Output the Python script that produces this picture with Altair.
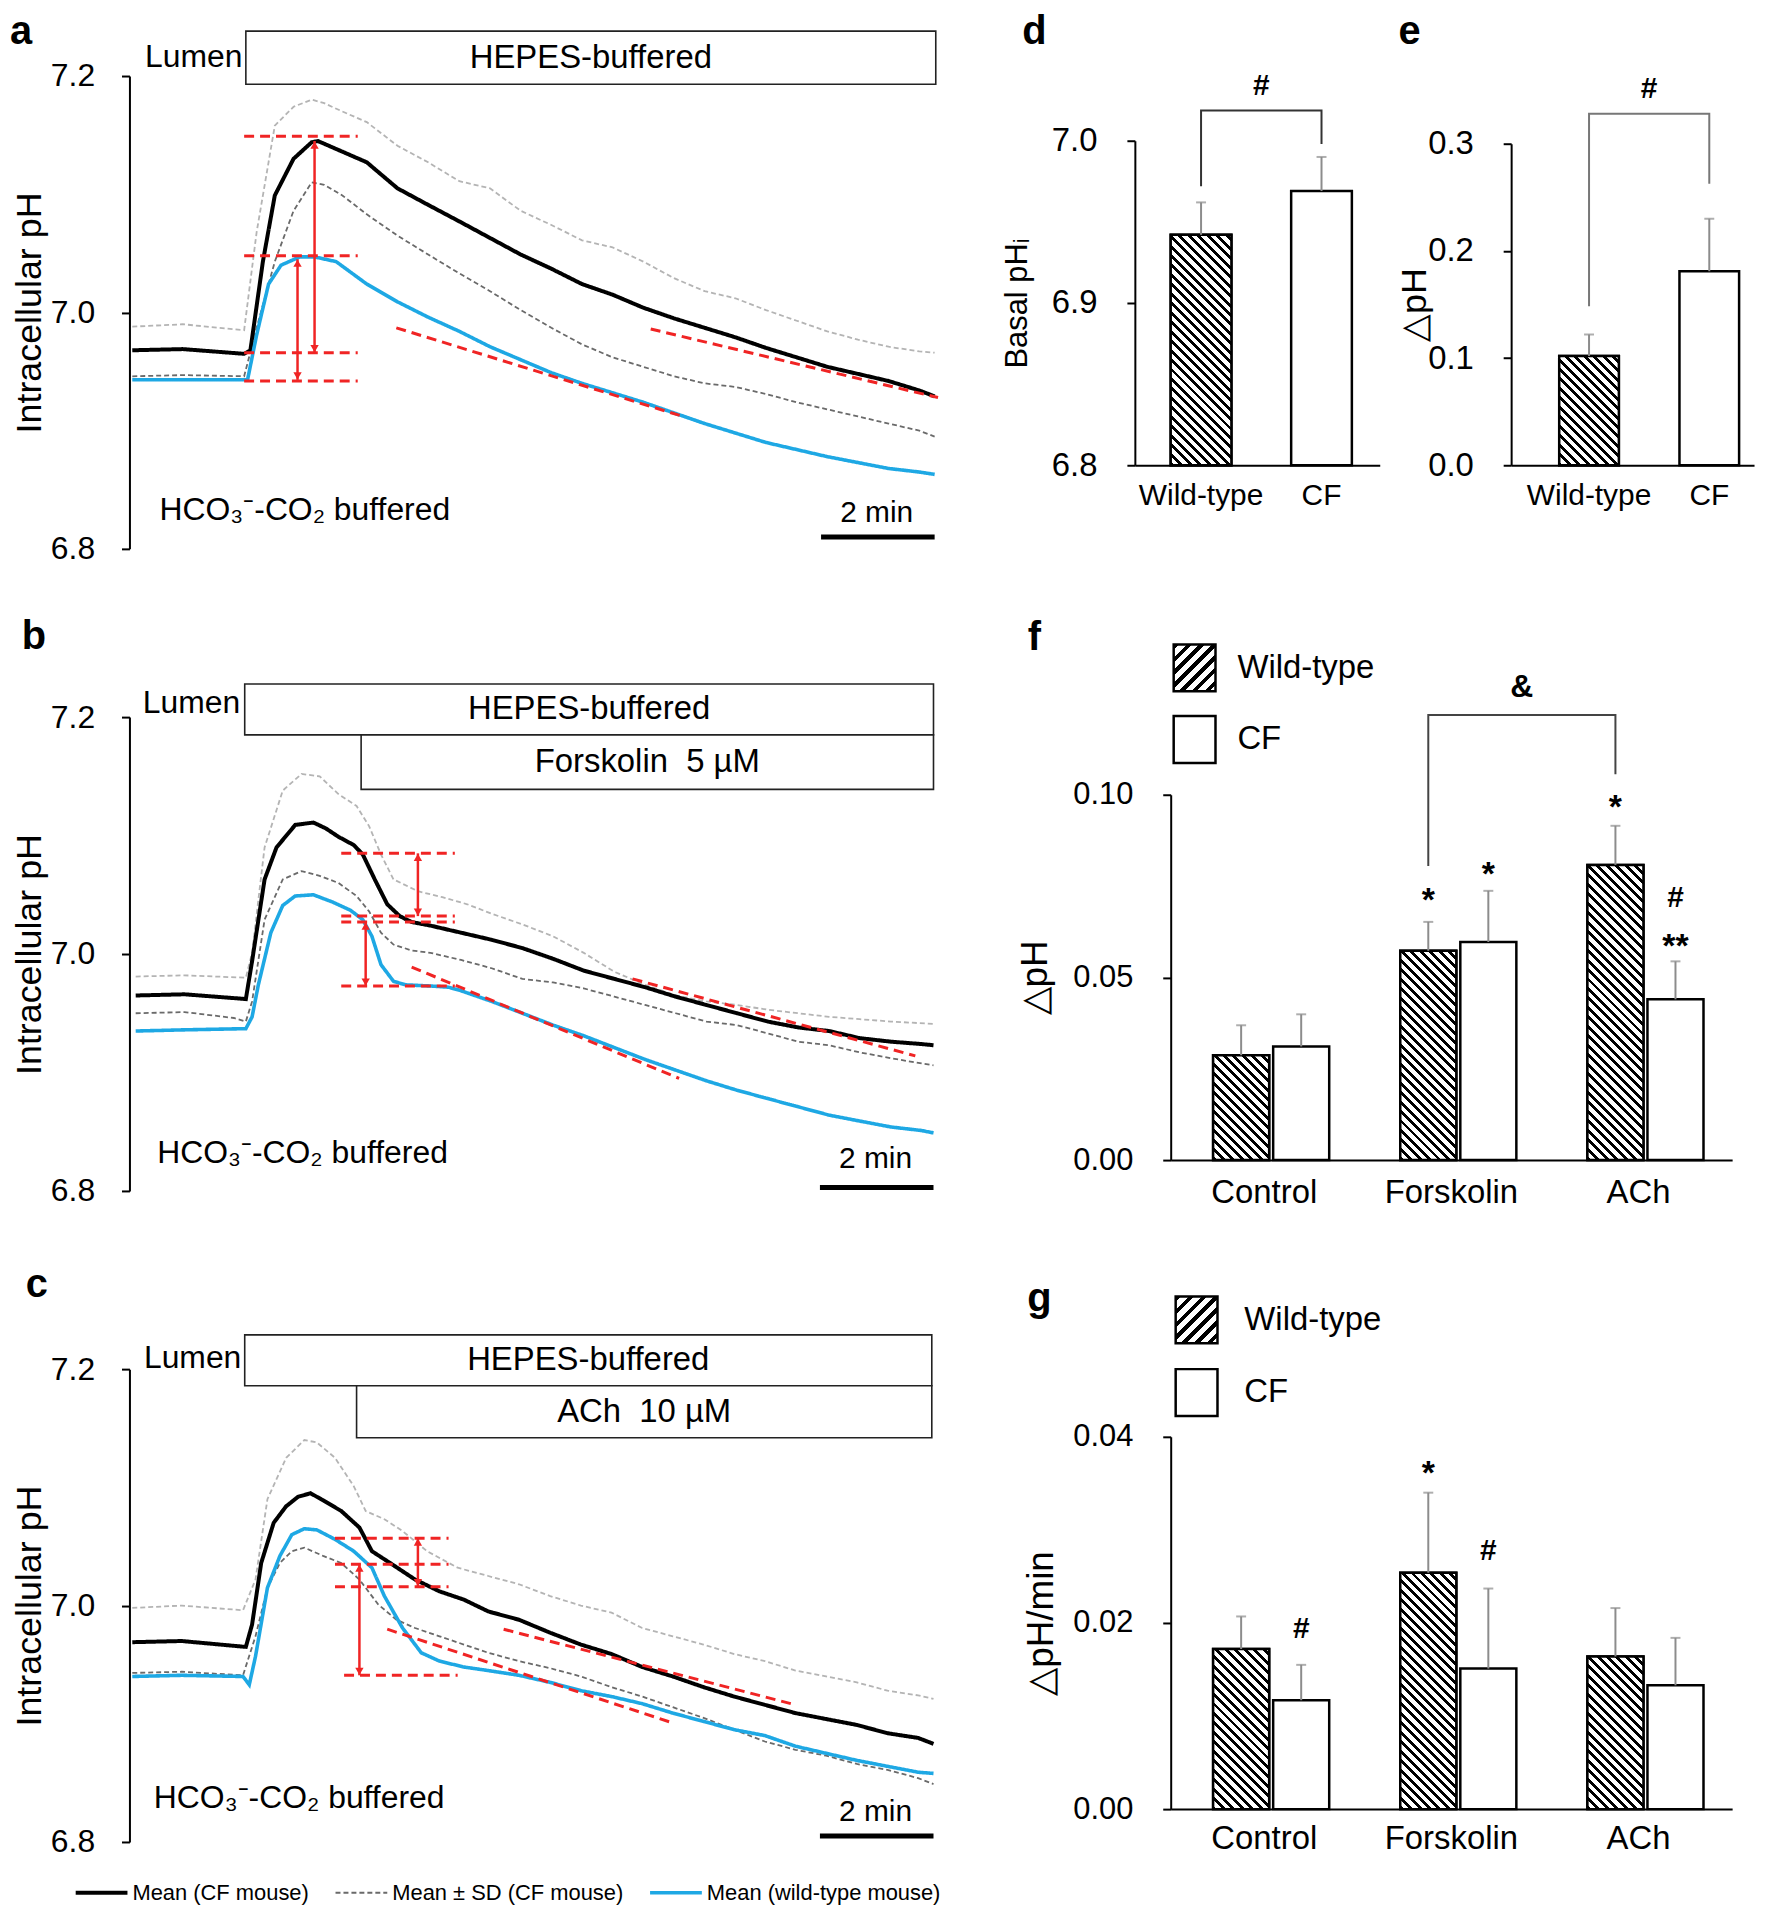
import altair as alt
import pandas as pd

FONT = "Liberation Sans"
BLUE = "#1ea8e4"
RED = "#f02424"
ERR_GRAY = "#8c8c8c"
SD_GRAY = "#6a6a6a"
SERIES = ["Mean (CF mouse)", "Mean \u00b1 SD (CF mouse)", "Mean (wild-type mouse)"]
GENO = ["Wild-type", "CF"]
CONDS = ["Control", "Forskolin", "ACh"]

# ---------------- panel a (time in min, pH) ----------------
A_CF_T = [0.05, 0.94, 2.02, 2.13, 2.35, 2.56, 2.89, 3.21, 3.32, 3.75, 4.18, 4.72, 5.26, 5.81, 6.35, 6.89, 7.43, 7.97, 8.51, 9.05, 9.59, 10.13, 10.67, 11.21, 11.75, 12.29, 12.83, 13.37, 13.91, 14.18]
A_CF = [6.968, 6.969, 6.965, 6.968, 7.043, 7.099, 7.130, 7.144, 7.145, 7.136, 7.127, 7.105, 7.091, 7.077, 7.063, 7.049, 7.037, 7.024, 7.015, 7.004, 6.995, 6.987, 6.979, 6.970, 6.962, 6.954, 6.948, 6.942, 6.934, 6.929]
A_WT_T = [0.05, 0.94, 2.08, 2.24, 2.45, 2.67, 3.00, 3.26, 3.64, 4.18, 4.72, 5.26, 5.81, 6.35, 6.89, 7.43, 7.97, 8.51, 9.05, 9.59, 10.13, 10.67, 11.21, 11.75, 12.29, 12.83, 13.37, 13.91, 14.18]
A_WT = [6.943, 6.943, 6.943, 6.981, 7.024, 7.040, 7.047, 7.047, 7.043, 7.024, 7.009, 6.996, 6.984, 6.971, 6.960, 6.949, 6.940, 6.932, 6.924, 6.915, 6.906, 6.898, 6.890, 6.884, 6.878, 6.873, 6.868, 6.865, 6.863]
A_SD_T = [0.05, 0.94, 2.02, 2.24, 2.56, 2.89, 3.21, 3.43, 3.75, 4.18, 4.72, 5.26, 5.81, 6.35, 6.89, 7.43, 7.97, 8.51, 9.05, 9.59, 10.13, 10.67, 11.21, 11.75, 12.29, 12.83, 13.37, 13.91, 14.18]
A_SDU = [6.988, 6.990, 6.985, 7.068, 7.158, 7.174, 7.180, 7.177, 7.170, 7.161, 7.141, 7.127, 7.111, 7.105, 7.086, 7.074, 7.061, 7.055, 7.043, 7.029, 7.018, 7.012, 7.002, 6.993, 6.984, 6.977, 6.971, 6.967, 6.966]
A_SDL = [6.946, 6.947, 6.946, 6.987, 7.043, 7.086, 7.110, 7.108, 7.099, 7.083, 7.065, 7.049, 7.033, 7.018, 7.002, 6.987, 6.973, 6.962, 6.954, 6.946, 6.940, 6.937, 6.931, 6.924, 6.918, 6.912, 6.906, 6.900, 6.895]
A_H_T1 = [2.02, 2.02, 2.02, 2.02]
A_H_T2 = [4.02, 4.02, 4.02, 4.02]
A_H_PH = [7.149, 7.048, 6.966, 6.942]
A_AR_T = [3.26, 2.96]
A_AR_TOP = [7.145, 7.045]
A_AR_BOT = [6.966, 6.943]
A_SL_T1 = [4.70, 9.18]
A_SL_PH1 = [6.987, 6.986]
A_SL_T2 = [9.75, 14.24]
A_SL_PH2 = [6.912, 6.928]
A_BOX_LABEL = ["HEPES-buffered"]
A_BOX_T1 = [2.05]
A_BOX_T2 = [14.20]
A_BOX_PH1 = [7.193]
A_BOX_PH2 = [7.238]

# ---------------- panel b ----------------
B_CF_T = [0.11, 0.97, 2.05, 2.16, 2.38, 2.59, 2.92, 3.24, 3.46, 3.68, 3.95, 4.11, 4.32, 4.54, 4.76, 4.97, 5.30, 5.84, 6.38, 6.92, 7.46, 8.00, 8.54, 9.08, 9.62, 10.16, 10.70, 11.24, 11.78, 12.32, 12.86, 13.41, 13.95, 14.16]
B_CF = [6.965, 6.966, 6.962, 6.994, 7.063, 7.090, 7.109, 7.111, 7.106, 7.099, 7.092, 7.084, 7.063, 7.042, 7.032, 7.027, 7.024, 7.018, 7.012, 7.005, 6.996, 6.986, 6.979, 6.972, 6.964, 6.957, 6.950, 6.943, 6.938, 6.935, 6.929, 6.926, 6.924, 6.923]
B_WT_T = [0.11, 0.97, 2.05, 2.16, 2.27, 2.49, 2.70, 2.92, 3.24, 3.57, 3.89, 4.11, 4.27, 4.43, 4.65, 4.86, 5.30, 5.62, 5.84, 6.38, 6.92, 7.46, 8.00, 8.54, 9.08, 9.62, 10.16, 10.70, 11.24, 11.78, 12.32, 12.86, 13.41, 13.95, 14.16]
B_WT = [6.935, 6.936, 6.937, 6.947, 6.974, 7.018, 7.041, 7.049, 7.050, 7.044, 7.037, 7.029, 7.015, 6.991, 6.977, 6.974, 6.973, 6.972, 6.969, 6.960, 6.950, 6.940, 6.931, 6.921, 6.911, 6.902, 6.893, 6.885, 6.878, 6.871, 6.864, 6.859, 6.854, 6.851, 6.849]
B_SDU_T = [0.11, 0.97, 2.05, 2.16, 2.38, 2.70, 3.03, 3.35, 3.68, 4.00, 4.22, 4.43, 4.65, 5.08, 5.51, 5.95, 6.38, 6.92, 7.46, 8.00, 8.54, 9.08, 9.62, 10.16, 10.70, 11.24, 11.78, 12.32, 12.86, 13.41, 14.16]
B_SDU = [6.981, 6.982, 6.980, 7.001, 7.090, 7.138, 7.152, 7.150, 7.135, 7.125, 7.108, 7.084, 7.063, 7.053, 7.048, 7.042, 7.034, 7.025, 7.015, 7.001, 6.985, 6.974, 6.965, 6.960, 6.957, 6.953, 6.950, 6.947, 6.945, 6.943, 6.941]
B_SDL_T = [0.11, 0.97, 1.84, 2.05, 2.16, 2.38, 2.70, 3.03, 3.35, 3.68, 4.00, 4.22, 4.43, 4.65, 4.97, 5.30, 5.84, 6.38, 6.92, 7.46, 8.00, 8.54, 9.08, 9.62, 10.16, 10.70, 11.24, 11.78, 12.32, 12.86, 13.41, 14.16]
B_SDL = [6.950, 6.951, 6.946, 6.943, 6.960, 7.029, 7.063, 7.070, 7.066, 7.060, 7.049, 7.036, 7.018, 7.008, 7.003, 7.001, 6.995, 6.988, 6.979, 6.976, 6.971, 6.964, 6.957, 6.950, 6.943, 6.940, 6.933, 6.926, 6.923, 6.917, 6.912, 6.906]
B_H_T1 = [3.73, 3.73, 3.73, 3.73]
B_H_T2 = [5.73, 5.73, 5.73, 5.73]
B_H_PH = [7.085, 7.032, 7.027, 6.973]
B_AR_T = [5.08, 4.16]
B_AR_TOP = [7.085, 7.027]
B_AR_BOT = [7.032, 6.973]
B_SL_T1 = [4.97, 8.86]
B_SL_PH1 = [6.989, 6.979]
B_SL_T2 = [9.68, 13.84]
B_SL_PH2 = [6.895, 6.914]
B_BOX_LABEL = ["HEPES-buffered", "Forskolin\u00a0 5 \u00b5M"]
B_BOX_T1 = [2.03, 4.08]
B_BOX_T2 = [14.16, 14.16]
B_BOX_PH1 = [7.185, 7.139]
B_BOX_PH2 = [7.228, 7.185]

# ---------------- panel c ----------------
C_CF_T = [0.05, 0.92, 2.05, 2.16, 2.32, 2.54, 2.76, 2.97, 3.19, 3.41, 3.73, 4.05, 4.27, 4.59, 5.03, 5.46, 5.89, 6.32, 6.86, 7.41, 7.95, 8.49, 9.03, 9.57, 10.11, 10.65, 11.19, 11.73, 12.27, 12.81, 13.35, 13.89, 14.16]
C_CF = [6.969, 6.970, 6.965, 6.984, 7.036, 7.070, 7.084, 7.092, 7.095, 7.089, 7.080, 7.066, 7.046, 7.036, 7.022, 7.012, 7.005, 6.995, 6.988, 6.977, 6.967, 6.959, 6.948, 6.940, 6.931, 6.923, 6.916, 6.909, 6.904, 6.899, 6.892, 6.888, 6.883]
C_WT_T = [0.05, 0.92, 2.00, 2.11, 2.22, 2.43, 2.65, 2.86, 3.08, 3.30, 3.62, 3.95, 4.27, 4.49, 4.81, 5.14, 5.46, 5.89, 6.32, 6.86, 7.41, 7.95, 8.49, 9.03, 9.57, 10.11, 10.65, 11.19, 11.73, 12.27, 12.81, 13.35, 13.89, 14.16]
C_WT = [6.940, 6.941, 6.940, 6.933, 6.957, 7.015, 7.042, 7.060, 7.065, 7.064, 7.056, 7.046, 7.032, 7.008, 6.981, 6.960, 6.953, 6.948, 6.945, 6.941, 6.935, 6.928, 6.923, 6.917, 6.909, 6.902, 6.895, 6.890, 6.881, 6.875, 6.869, 6.864, 6.859, 6.858]
C_SDU_T = [0.05, 0.92, 2.00, 2.22, 2.43, 2.76, 3.08, 3.30, 3.62, 3.95, 4.16, 4.49, 4.81, 5.24, 5.78, 6.32, 6.86, 7.41, 7.95, 8.49, 9.03, 9.57, 10.11, 10.65, 11.19, 11.73, 12.27, 12.81, 13.35, 13.89, 14.16]
C_SDU = [6.998, 7.000, 6.996, 7.022, 7.090, 7.125, 7.140, 7.138, 7.125, 7.101, 7.080, 7.073, 7.063, 7.046, 7.032, 7.025, 7.018, 7.008, 7.000, 6.994, 6.981, 6.974, 6.967, 6.959, 6.953, 6.945, 6.940, 6.935, 6.928, 6.924, 6.921]
C_SDL_T = [0.05, 0.92, 2.00, 2.22, 2.43, 2.65, 2.86, 3.08, 3.41, 3.73, 4.05, 4.38, 4.70, 5.03, 5.46, 5.89, 6.32, 6.86, 7.41, 7.95, 8.49, 9.03, 9.57, 10.11, 10.65, 11.19, 11.73, 12.27, 12.81, 13.35, 13.89, 14.16]
C_SDL = [6.943, 6.944, 6.941, 6.974, 7.015, 7.036, 7.046, 7.049, 7.042, 7.036, 7.022, 7.001, 6.988, 6.981, 6.974, 6.967, 6.960, 6.953, 6.947, 6.940, 6.931, 6.923, 6.914, 6.905, 6.895, 6.885, 6.878, 6.873, 6.866, 6.861, 6.854, 6.849]
C_H_T1 = [3.62, 3.62, 3.62, 3.78]
C_H_T2 = [5.62, 5.62, 5.62, 5.78]
C_H_PH = [7.057, 7.035, 7.016, 6.941]
C_AR_T = [5.08, 4.05]
C_AR_TOP = [7.057, 7.035]
C_AR_BOT = [7.016, 6.941]
C_SL_T1 = [4.54, 6.59]
C_SL_PH1 = [6.980, 6.980]
C_SL_T2 = [9.55, 11.73]
C_SL_PH2 = [6.901, 6.916]
C_BOX_LABEL = ["HEPES-buffered", "ACh\u00a0 10 \u00b5M"]
C_BOX_T1 = [2.03, 4.00]
C_BOX_T2 = [14.13, 14.13]
C_BOX_PH1 = [7.186, 7.142]
C_BOX_PH2 = [7.229, 7.186]

# text anchors of the trace panels: Lumen (t, pH), HCO3 label, "2 min", scale bar
A_TXT = {"lumen": (1.99, 7.216), "hco3": (0.53, 6.833), "min": (13.16, 6.830), "bar": (12.18, 14.18, 6.810)}
B_TXT = {"lumen": (1.95, 7.212), "hco3": (0.49, 6.832), "min": (13.14, 6.827), "bar": (12.16, 14.16, 6.803)}
C_TXT = {"lumen": (1.97, 7.209), "hco3": (0.43, 6.837), "min": (13.14, 6.825), "bar": (12.16, 14.16, 6.805)}

# ---------------- bar panels ----------------
D_MEAN = [6.942, 6.969]
D_SD = [0.020, 0.021]
D_BRACKET = [6.972, 7.0186, 7.0186, 6.998]
D_SIG = 7.034
E_MEAN = [0.102, 0.181]
E_SD = [0.020, 0.049]
E_BRACKET = [0.1484, 0.328, 0.328, 0.2627]
E_SIG = 0.351

F_WT = [0.0287, 0.0573, 0.0808]
F_WT_SD = [0.0082, 0.0079, 0.0107]
F_CF = [0.0311, 0.0597, 0.0440]
F_CF_SD = [0.0088, 0.0140, 0.0104]
F_SIG_C = ["Forskolin", "Forskolin", "ACh", "ACh", "ACh"]
F_SIG_G = ["Wild-type", "CF", "Wild-type", "CF", "CF"]
F_SIG_V = [0.0734, 0.0805, 0.0987, 0.0718, 0.0608]
F_SIG_S = ["*", "*", "*", "#", "**"]
F_BRACKET = [0.0805, 0.1218, 0.1218, 0.1056]
F_AMP = 0.1295

G_WT = [0.0172, 0.0254, 0.0164]
G_WT_SD = [0.0035, 0.0086, 0.0052]
G_CF = [0.0117, 0.0151, 0.0133]
G_CF_SD = [0.0038, 0.0086, 0.0051]
G_SIG_C = ["Forskolin", "Forskolin", "Control"]
G_SIG_G = ["Wild-type", "CF", "CF"]
G_SIG_V = [0.0370, 0.0277, 0.0194]
G_SIG_S = ["*", "#", "#"]

# ---------------- layout (figure pixels) ----------------
MARGIN = 8
CW, CH = 1762, 1902
T_MAX = 14.2
FR_A = dict(x0=130, x1=940, yt=72, yb=547)
FR_B = dict(x0=130, x1=940, yt=716, yb=1192)
FR_C = dict(x0=130, x1=940, yt=1371, yb=1846)
# pair panels: band paddings (inner, outer, align)
FR_D = dict(x0=1140, x1=1386, yt=137, yb=463, band=(0.496, 0.2645, 0.5625))
FR_E = dict(x0=1518, x1=1762, yt=140, yb=463, band=(0.504, 0.262, 0.763))
# grouped panels: group band range; inner offset band (inner, outer, align)
FR_F = dict(x0=1176, x1=1740, yt=794, yb=1161)
FR_G = dict(x0=1176, x1=1740, yt=1439, yb=1813)
GRP_PI, GRP_PO, GRP_ALIGN = 0.0667, 0.5917, 0.597


def px(v):
    return v - MARGIN


def hatch(w, h, forward=False, period=9.5, ink=0.42):
    L = w + h
    c = L / (w * w + h * h)
    if forward:
        x1, y1, x2, y2 = 0, 0, c * w, c * h
    else:
        x1, y1, x2, y2 = 0, 1, c * w, 1 - c * h
    stops = []
    k = 0
    while k * period < L:
        a = k * period / L
        b = min((k * period + ink * period) / L, 1.0)
        e = min((k + 1) * period / L, 1.0)
        stops += [(a, "black"), (b, "black"), (b, "white"), (e, "white")]
        k += 1
    return {"gradient": "linear", "x1": x1, "y1": y1, "x2": x2, "y2": y2,
            "stops": [{"offset": o, "color": col} for o, col in stops]}


def letter_layer(letter, lx, ly):
    return alt.Chart(pd.DataFrame({"s": [letter]})).mark_text(
        fontSize=40, fontWeight="bold", color="black", align="center", baseline="middle"
    ).encode(text="s:N", x=alt.value(px(lx)), y=alt.value(px(ly)))


TRACE_LEGEND = alt.Legend(orient="none", legendX=px(74), legendY=px(1897) - 12, direction="horizontal",
                          columns=3, title=None, symbolType="stroke", symbolSize=2704, clipHeight=24,
                          labelFontSize=22, labelLimit=500, labelColor="black", columnPadding=24,
                          labelOffset=3)


def trace_panel(fr, cf_t, cf, wt_t, wt, sdu_t, sdu, sdl_t, sdl, h1, h2, hp, art, artop, arbot,
                s1, sp1, s2, sp2, blab, bt1, bt2, bp1, bp2, txt, letter, lxy):
    rows = []
    for part, ser, ts, ps in [("sdl", SERIES[1], sdl_t, sdl), ("sdu", SERIES[1], sdu_t, sdu),
                              ("cf", SERIES[0], cf_t, cf), ("wt", SERIES[2], wt_t, wt)]:
        for t, v in zip(ts, ps):
            rows.append({"t": t, "ph": v, "series": ser, "part": part})
    ldf = pd.DataFrame(rows)

    xs = alt.Scale(domain=[0, T_MAX], range=[px(fr["x0"]), px(fr["x1"])], nice=False, zero=False)
    ys = alt.Scale(domain=[6.8, 7.2], range=[px(fr["yb"]), px(fr["yt"])], nice=False, zero=False)
    X = alt.X("t:Q", scale=xs, axis=None)
    Y = alt.Y("ph:Q", scale=ys, axis=alt.Axis(
        orient="left", offset=-px(fr["x0"]),
        values=[6.8, 7.0, 7.2], format=".1f", title="Intracellular pH", grid=False,
        domainColor="black", domainWidth=2, tickColor="black", tickWidth=2, tickSize=8,
        labelFontSize=32, labelColor="black", labelPadding=27,
        titleFontSize=36, titleFontWeight="normal", titleColor="black", titlePadding=2))

    color = alt.Color("series:N", scale=alt.Scale(domain=SERIES, range=["black", SD_GRAY, BLUE]),
                      legend=TRACE_LEGEND)
    dash = alt.StrokeDash("series:N", scale=alt.Scale(domain=SERIES, range=[[1, 0], [5, 3], [1, 0]]),
                          legend=TRACE_LEGEND)
    sw = alt.StrokeWidth("series:N", scale=alt.Scale(type="ordinal", domain=SERIES, range=[4.0, 1.8, 3.6]),
                         legend=TRACE_LEGEND)

    layers = []
    for part, op in [("sdl", 1.0), ("sdu", 0.5), ("cf", 1.0), ("wt", 1.0)]:
        layers.append(alt.Chart(ldf).transform_filter(alt.datum.part == part).mark_line(opacity=op)
                      .encode(x=X, y=Y, color=color, strokeDash=dash, strokeWidth=sw))

    layers.append(alt.Chart(pd.DataFrame({"t": h1, "t2": h2, "ph": hp})).mark_rule(
        color=RED, strokeWidth=3, strokeDash=[10, 6]).encode(x=X, x2="t2:Q", y=Y))
    layers.append(alt.Chart(pd.DataFrame({"t": s1, "ph": sp1, "t2": s2, "ph2": sp2})).mark_rule(
        color=RED, strokeWidth=3, strokeDash=[10, 6]).encode(x=X, x2="t2:Q", y=Y, y2="ph2:Q"))
    layers.append(alt.Chart(pd.DataFrame({"t": art, "ph": artop, "ph2": arbot})).mark_rule(
        color=RED, strokeWidth=2.5).encode(x=X, y=Y, y2="ph2:Q"))
    layers.append(alt.Chart(pd.DataFrame({"t": art, "ph": artop})).mark_point(
        shape="triangle-up", filled=True, size=70, color=RED, opacity=1, yOffset=4).encode(x=X, y=Y))
    layers.append(alt.Chart(pd.DataFrame({"t": art, "ph": arbot})).mark_point(
        shape="triangle-down", filled=True, size=70, color=RED, opacity=1, yOffset=-4).encode(x=X, y=Y))

    bdf = pd.DataFrame({"t": bt1, "t2": bt2, "ph": bp1, "ph2": bp2})
    layers.append(alt.Chart(bdf).mark_rect(fill="white", stroke="#222222", strokeWidth=1.6).encode(
        x=X, x2="t2:Q", y=Y, y2="ph2:Q"))
    tdf = pd.DataFrame({"t": [(a + b) / 2 for a, b in zip(bt1, bt2)],
                        "ph": [(a + b) / 2 for a, b in zip(bp1, bp2)], "s": blab})
    layers.append(alt.Chart(tdf).mark_text(fontSize=33, color="black", baseline="middle").encode(
        x=X, y=Y, text="s:N"))

    lt, lp = txt["lumen"]
    layers.append(alt.Chart(pd.DataFrame({"t": [lt], "ph": [lp], "s": ["Lumen"]})).mark_text(
        fontSize=32, color="black", align="right", baseline="middle").encode(x=X, y=Y, text="s:N"))
    ht, hp2 = txt["hco3"]
    layers.append(alt.Chart(pd.DataFrame({"t": [ht], "ph": [hp2], "s": ["HCO\u2083\u207b-CO\u2082 buffered"]})).mark_text(
        fontSize=32, color="black", align="left", baseline="middle").encode(x=X, y=Y, text="s:N"))
    mt, mp = txt["min"]
    layers.append(alt.Chart(pd.DataFrame({"t": [mt], "ph": [mp], "s": ["2 min"]})).mark_text(
        fontSize=30, color="black", align="center", baseline="middle").encode(x=X, y=Y, text="s:N"))
    b1, b2, bp = txt["bar"]
    layers.append(alt.Chart(pd.DataFrame({"t": [b1], "t2": [b2], "ph": [bp]})).mark_rule(
        color="black", strokeWidth=5).encode(x=X, x2="t2:Q", y=Y))

    layers.append(letter_layer(letter, *lxy))
    return alt.layer(*layers)


def y_axis(fr, vals, fmt, title, title_pad, title_size, label_size):
    return alt.Axis(orient="left", offset=-px(fr["x0"]), values=vals, format=fmt, title=title, grid=False,
                    domainColor="black", domainWidth=2, tickColor="black", tickWidth=2, tickSize=8,
                    labelFontSize=label_size, labelColor="black", labelPadding=30,
                    titleFontSize=title_size, titleFontWeight="normal", titleColor="black",
                    titlePadding=title_pad)


def x_axis(fr, label_size, label_pad):
    return alt.Axis(orient="bottom", offset=px(fr["yb"]) - CH, title=None, labelAngle=0, ticks=False,
                    domainColor="black", domainWidth=2, labelFontSize=label_size, labelColor="black",
                    labelPadding=label_pad)


def pair_panel(fr, means, sds, bracket_v, bracket_col, sig_v, ymin, ymax, yvals, fmt, title, title_size,
               title_pad, letter, lxy):
    pi, po, al = fr["band"]
    xs = alt.Scale(domain=GENO, range=[px(fr["x0"]), px(fr["x1"])], paddingInner=pi,
                   paddingOuter=po, align=al)
    ys = alt.Scale(domain=[ymin, ymax], range=[px(fr["yb"]), px(fr["yt"])], nice=False, zero=False)
    X = alt.X("g:N", scale=xs, sort=GENO, axis=x_axis(fr, 30, 15))
    Y = alt.Y("v:Q", scale=ys, axis=y_axis(fr, yvals, fmt, title, title_pad, title_size, 33))
    df = pd.DataFrame({"g": GENO, "v": means, "e": [m + s for m, s in zip(means, sds)], "b": [ymin, ymin]})
    W = fr["x1"] - fr["x0"]
    step = W / (2 - pi + 2 * po)
    bw = step * (1 - pi)
    hgt = (means[0] - ymin) / (ymax - ymin) * (fr["yb"] - fr["yt"])
    layers = [
        alt.Chart(df).mark_bar(fill="white", stroke="black", strokeWidth=2.5).encode(x=X, y=Y, y2="b:Q"),
        alt.Chart(df).transform_filter(alt.datum.g == GENO[0]).mark_bar(
            fill=hatch(bw, hgt), stroke="black", strokeWidth=2.5).encode(x=X, y=Y, y2="b:Q"),
        alt.Chart(df).mark_rule(color=ERR_GRAY, strokeWidth=2).encode(x=X, y=Y, y2="e:Q"),
        alt.Chart(pd.DataFrame({"g": GENO, "v": list(df["e"])})).mark_tick(
            color=ERR_GRAY, thickness=2, size=10).encode(x=X, y=Y),
        alt.Chart(pd.DataFrame({"g": [GENO[0], GENO[0], GENO[1], GENO[1]], "v": bracket_v, "o": [0, 1, 2, 3]}))
        .mark_line(color=bracket_col, strokeWidth=2).encode(x=X, y=Y, order="o:Q"),
        alt.Chart(pd.DataFrame({"g": [GENO[0]], "v": [sig_v], "s": ["#"]})).mark_text(
            fontSize=30, fontWeight="bold", color="black", dx=step / 2, baseline="middle").encode(
            x=X, y=Y, text="s:N"),
        letter_layer(letter, *lxy),
    ]
    return alt.layer(*layers)


def legend_layers(x0, y_top, y_top2, text_x):
    # hand-drawn key (a hatched swatch has no equivalent among legend symbols)
    sw, sh = 42, 47
    out = [
        alt.Chart(pd.DataFrame({"s": ["Wild-type"]})).mark_rect(
            fill=hatch(sw, sh, forward=True, period=13, ink=0.4), stroke="black", strokeWidth=2.5).encode(
            x=alt.value(px(x0)), x2=alt.value(px(x0 + sw)), y=alt.value(px(y_top)), y2=alt.value(px(y_top + sh))),
        alt.Chart(pd.DataFrame({"s": ["CF"]})).mark_rect(
            fill="white", stroke="black", strokeWidth=2.5).encode(
            x=alt.value(px(x0)), x2=alt.value(px(x0 + sw)), y=alt.value(px(y_top2)), y2=alt.value(px(y_top2 + sh))),
    ]
    for g, yt in zip(GENO, [y_top, y_top2]):
        out.append(alt.Chart(pd.DataFrame({"s": [g]})).mark_text(
            fontSize=33, color="black", align="left", baseline="middle").encode(
            text="s:N", x=alt.value(px(text_x)), y=alt.value(px(yt + sh / 2))))
    return out


def group_panel(fr, wt, wt_sd, cf, cf_sd, ymax, yvals, title, sig_c, sig_g, sig_v, sig_s,
                bracket_v, amp_v, letter, lxy, leg, title_pad, label_pad):
    rows = []
    for c, a, asd, b, bsd in zip(CONDS, wt, wt_sd, cf, cf_sd):
        rows.append({"c": c, "geno": "Wild-type", "v": a, "e": a + asd, "b": 0.0})
        rows.append({"c": c, "geno": "CF", "v": b, "e": b + bsd, "b": 0.0})
    df = pd.DataFrame(rows)
    X = alt.X("c:N", scale=alt.Scale(domain=CONDS, range=[px(fr["x0"]), px(fr["x1"])],
                                     paddingInner=0, paddingOuter=0), sort=CONDS, axis=x_axis(fr, 33, label_pad))
    XO = alt.XOffset("geno:N", scale=alt.Scale(domain=GENO, paddingInner=GRP_PI, paddingOuter=GRP_PO,
                                               align=GRP_ALIGN), sort=GENO)
    Y = alt.Y("v:Q", scale=alt.Scale(domain=[0, ymax], range=[px(fr["yb"]), px(fr["yt"])], nice=False, zero=True),
              axis=y_axis(fr, yvals, ".2f", title, title_pad, 37, 31))
    layers = [alt.Chart(df).mark_bar(fill="white", stroke="black", strokeWidth=2.5).encode(
        x=X, xOffset=XO, y=Y, y2="b:Q")]
    gstep = (fr["x1"] - fr["x0"]) / 3
    istep = gstep / (2 - GRP_PI + 2 * GRP_PO)
    bw = istep * (1 - GRP_PI)
    for c, a in zip(CONDS, wt):
        hgt = a / ymax * (fr["yb"] - fr["yt"])
        layers.append(alt.Chart(df).transform_filter(
            (alt.datum.c == c) & (alt.datum.geno == "Wild-type")).mark_bar(
            fill=hatch(bw, hgt), stroke="black", strokeWidth=2.5).encode(x=X, xOffset=XO, y=Y, y2="b:Q"))
    layers.append(alt.Chart(df).mark_rule(color=ERR_GRAY, strokeWidth=2).encode(x=X, xOffset=XO, y=Y, y2="e:Q"))
    cap = df[["c", "geno"]].copy()
    cap["v"] = df["e"]
    layers.append(alt.Chart(cap).mark_tick(color=ERR_GRAY, thickness=2, size=10).encode(x=X, xOffset=XO, y=Y))
    sdf = pd.DataFrame({"c": sig_c, "geno": sig_g, "v": sig_v, "s": sig_s})
    layers.append(alt.Chart(sdf).transform_filter(alt.datum.s != "#").mark_text(
        fontSize=34, fontWeight="bold", color="black", baseline="middle", dy=9).encode(
        x=X, xOffset=XO, y=Y, text="s:N"))
    layers.append(alt.Chart(sdf).transform_filter(alt.datum.s == "#").mark_text(
        fontSize=30, fontWeight="bold", color="black", baseline="middle").encode(
        x=X, xOffset=XO, y=Y, text="s:N"))
    if bracket_v is not None:
        br = pd.DataFrame({"c": ["Forskolin", "Forskolin", "ACh", "ACh"], "geno": ["Wild-type"] * 4,
                           "v": bracket_v, "o": [0, 1, 2, 3]})
        layers.append(alt.Chart(br).mark_line(color="#444444", strokeWidth=2).encode(
            x=X, xOffset=XO, y=Y, order="o:Q"))
        layers.append(alt.Chart(pd.DataFrame({"c": ["Forskolin"], "geno": ["CF"], "v": [amp_v], "s": ["&"]}))
                      .mark_text(fontSize=32, fontWeight="bold", color="black", dx=gstep / 2 - istep,
                                 baseline="middle")
                      .encode(x=X, xOffset=XO, y=Y, text="s:N"))
    layers += legend_layers(*leg)
    layers.append(letter_layer(letter, *lxy))
    return alt.layer(*layers)


pa = trace_panel(FR_A, A_CF_T, A_CF, A_WT_T, A_WT, A_SD_T, A_SDU, A_SD_T, A_SDL, A_H_T1, A_H_T2, A_H_PH,
                 A_AR_T, A_AR_TOP, A_AR_BOT, A_SL_T1, A_SL_PH1, A_SL_T2, A_SL_PH2,
                 A_BOX_LABEL, A_BOX_T1, A_BOX_T2, A_BOX_PH1, A_BOX_PH2, A_TXT, "a", (21, 28))
pb = trace_panel(FR_B, B_CF_T, B_CF, B_WT_T, B_WT, B_SDU_T, B_SDU, B_SDL_T, B_SDL, B_H_T1, B_H_T2, B_H_PH,
                 B_AR_T, B_AR_TOP, B_AR_BOT, B_SL_T1, B_SL_PH1, B_SL_T2, B_SL_PH2,
                 B_BOX_LABEL, B_BOX_T1, B_BOX_T2, B_BOX_PH1, B_BOX_PH2, B_TXT, "b", (34, 636))
pc = trace_panel(FR_C, C_CF_T, C_CF, C_WT_T, C_WT, C_SDU_T, C_SDU, C_SDL_T, C_SDL, C_H_T1, C_H_T2, C_H_PH,
                 C_AR_T, C_AR_TOP, C_AR_BOT, C_SL_T1, C_SL_PH1, C_SL_T2, C_SL_PH2,
                 C_BOX_LABEL, C_BOX_T1, C_BOX_T2, C_BOX_PH1, C_BOX_PH2, C_TXT, "c", (37, 1287))

pd_ = pair_panel(FR_D, D_MEAN, D_SD, D_BRACKET, "#333333", D_SIG, 6.8, 7.0, [6.8, 6.9, 7.0], ".1f",
                 "Basal pH\u1d62", 31, 18, "d", (1039, 28))
pe = pair_panel(FR_E, E_MEAN, E_SD, E_BRACKET, "#777777", E_SIG, 0.0, 0.3, [0.0, 0.1, 0.2, 0.3], ".1f",
                "\u25b3pH", 36, -6, "e", (1416, 28))
pf = group_panel(FR_F, F_WT, F_WT_SD, F_CF, F_CF_SD, 0.10, [0.0, 0.05, 0.10], "\u25b3pH",
                 F_SIG_C, F_SIG_G, F_SIG_V, F_SIG_S, F_BRACKET, F_AMP, "f", (1039, 637),
                 (1179, 643, 715, 1243), 18, 17)
pg = group_panel(FR_G, G_WT, G_WT_SD, G_CF, G_CF_SD, 0.04, [0.0, 0.02, 0.04], "\u25b3pH/min",
                 G_SIG_C, G_SIG_G, G_SIG_V, G_SIG_S, None, None, "g", (1044, 1301),
                 (1181, 1298, 1371, 1250), 12, 14)

# configure() replaces the whole config, so it comes first and configure_view after it
chart = alt.layer(pa, pb, pc, pd_, pe, pf, pg).resolve_scale(
    x="independent", y="independent", xOffset="independent"
).properties(width=CW, height=CH, padding=0).configure(font=FONT).configure_view(
    stroke="transparent", strokeWidth=0
)

chart.save("out.html", embed_options={"renderer": "svg", "actions": False})
